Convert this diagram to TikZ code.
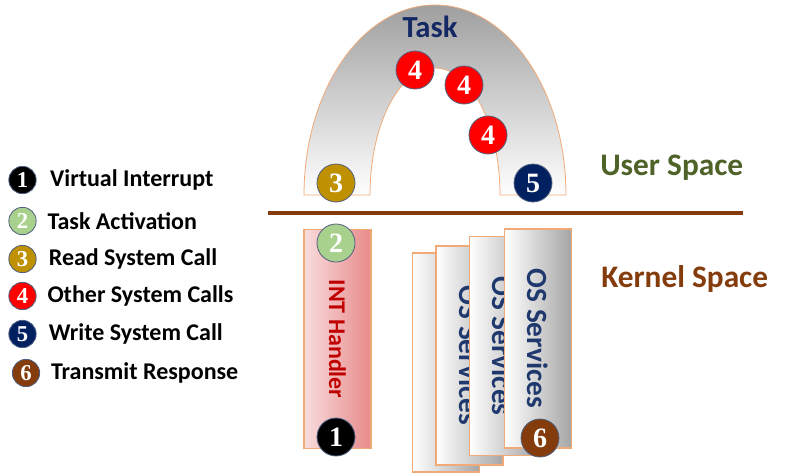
\documentclass[tikz,border=0pt]{standalone}
\usepackage{fontspec}
\setmainfont{Carlito}
\newfontfamily\digitfont{Liberation Serif}
\usetikzlibrary{positioning}
\definecolor{callBlack}{RGB}{0, 0, 0}
\definecolor{callGreen}{RGB}{169, 209, 142}
\definecolor{callGold}{RGB}{191, 144, 0}
\definecolor{callRed}{RGB}{255, 0, 0}
\definecolor{callNavy}{RGB}{0, 32, 96}
\definecolor{callBrown}{RGB}{132, 60, 12}
\definecolor{dotEdge}{RGB}{80, 96, 130}
\definecolor{taskBlue}{RGB}{20, 40, 100}
\definecolor{osBlue}{RGB}{31, 56, 110}
\definecolor{userGreen}{RGB}{79, 98, 40}
\definecolor{kernelBrown}{RGB}{132, 60, 12}
\definecolor{intRed}{RGB}{192, 0, 0}
\definecolor{sheetEdge}{RGB}{240, 170, 120}
\definecolor{pinkLight}{RGB}{248, 220, 221}
\definecolor{pinkDark}{RGB}{232, 138, 138}

\begin{document}
\begin{tikzpicture}[
  x=0.75pt, y=-0.75pt,
  bignum/.style={
    circle,
    draw=dotEdge,
    line width=0.6pt,
    fill=#1,
    minimum size=28.5pt,
    inner sep=0pt,
    text=white,
    font=\digitfont\bfseries\fontsize{21}{21}\selectfont
  },
  keynum/.style={
    bignum=#1,
    minimum size=20.5pt,
    font=\digitfont\bfseries\fontsize{17}{17}\selectfont
  },
  keytext/.style={
    anchor=west,
    inner sep=0pt,
    font=\bfseries\fontsize{18}{19}\selectfont
  },
  sheet/.style={
    draw=sheetEdge,
    line width=1.1pt,
    left color=white,
    right color=gray!70,
    minimum width=50.25pt,
    minimum height=164.25pt,
    inner sep=0pt
  },
  ostext/.style={rotate=-90,text=osBlue,font=\bfseries\fontsize{22}{22}\selectfont},
  spacetext/.style={anchor=base west,inner sep=0pt,font=\bfseries\fontsize{23.5}{24}\selectfont}
]
  \useasboundingbox[fill=white] (0,0) rectangle (789,475);

  % task arch
  \draw[draw=sheetEdge,line width=0.6pt,top color=gray!75,bottom color=white]
    (304,195) arc[start angle=180,end angle=360,x radius=131,y radius=190]
    -- (500,195) arc[start angle=0,end angle=-180,x radius=65,y radius=127] -- cycle;
  \node[anchor=base,inner sep=0pt,text=taskBlue,font=\bfseries\fontsize{23}{24}\selectfont] (task) at (430,37) {Task};
  \node[bignum=callRed] (call4a) at (415,70) {4};
  \node[bignum=callRed] (call4b) at (464,85) {4};
  \node[bignum=callRed] (call4c) at (488,135) {4};
  \node[bignum=callGold] (call3) at (336,183) {3};
  \node[bignum=callNavy] (call5) at (533,183) {5};

  % user / kernel boundary
  \draw[kernelBrown,line width=3.2pt] (268,213) -- (743,213);
  \node[spacetext,text=userGreen] (user) at (600,175) {User Space};
  \node[spacetext,text=kernelBrown] (kernel) at (601,287) {Kernel Space};

  % interrupt handler
  \node[sheet,left color=pinkLight,right color=pinkDark] (int) at (337.5,339) {};
  \node[rotate=-90,text=intRed,font=\bfseries\fontsize{18}{18}\selectfont] (intlabel) at (int.center) {INT Handler};
  \node[bignum=callGreen] (call2) at (336,243) {2};
  \node[bignum=callBlack] (call1) at (336,437) {1};

  % OS service stack
  \node[sheet] (os1) at (446,362.5) {};
  \node[sheet] (os2) at (469.5,355.5) {};
  \node[ostext] (os2label) at (os2.center) {OS Services};
  \node[sheet] (os3) at (503,346) {};
  \node[ostext] (os3label) at (os3.center) {OS Services};
  \node[sheet] (os4) at (538,338.5) {};
  \node[ostext] (os4label) at (os4.center) {OS Services};
  \node[bignum=callBrown] (call6) at (540,438) {6};

  % legend
  \node[keynum=callBlack] (key1) at (22.5,180) {1};
  \node[keynum=callGreen] (key2) at (22.5,221) {2};
  \node[keynum=callGold] (key3) at (22.5,259) {3};
  \node[keynum=callRed] (key4) at (22.5,296) {4};
  \node[keynum=callNavy] (key5) at (22.5,334) {5};
  \node[keynum=callBrown] (key6) at (26,373) {6};
  \node[keytext,right=10pt of key1] (text1) {Virtual Interrupt};
  \node[keytext,right=8pt of key2] (text2) {Task Activation};
  \node[keytext,right=9pt of key3] (text3) {Read System Call};
  \node[keytext,right=8pt of key4] (text4) {Other System Calls};
  \node[keytext,right=9pt of key5] (text5) {Write System Call};
  \node[keytext,right=8pt of key6] (text6) {Transmit Response};
\end{tikzpicture}
\end{document}
